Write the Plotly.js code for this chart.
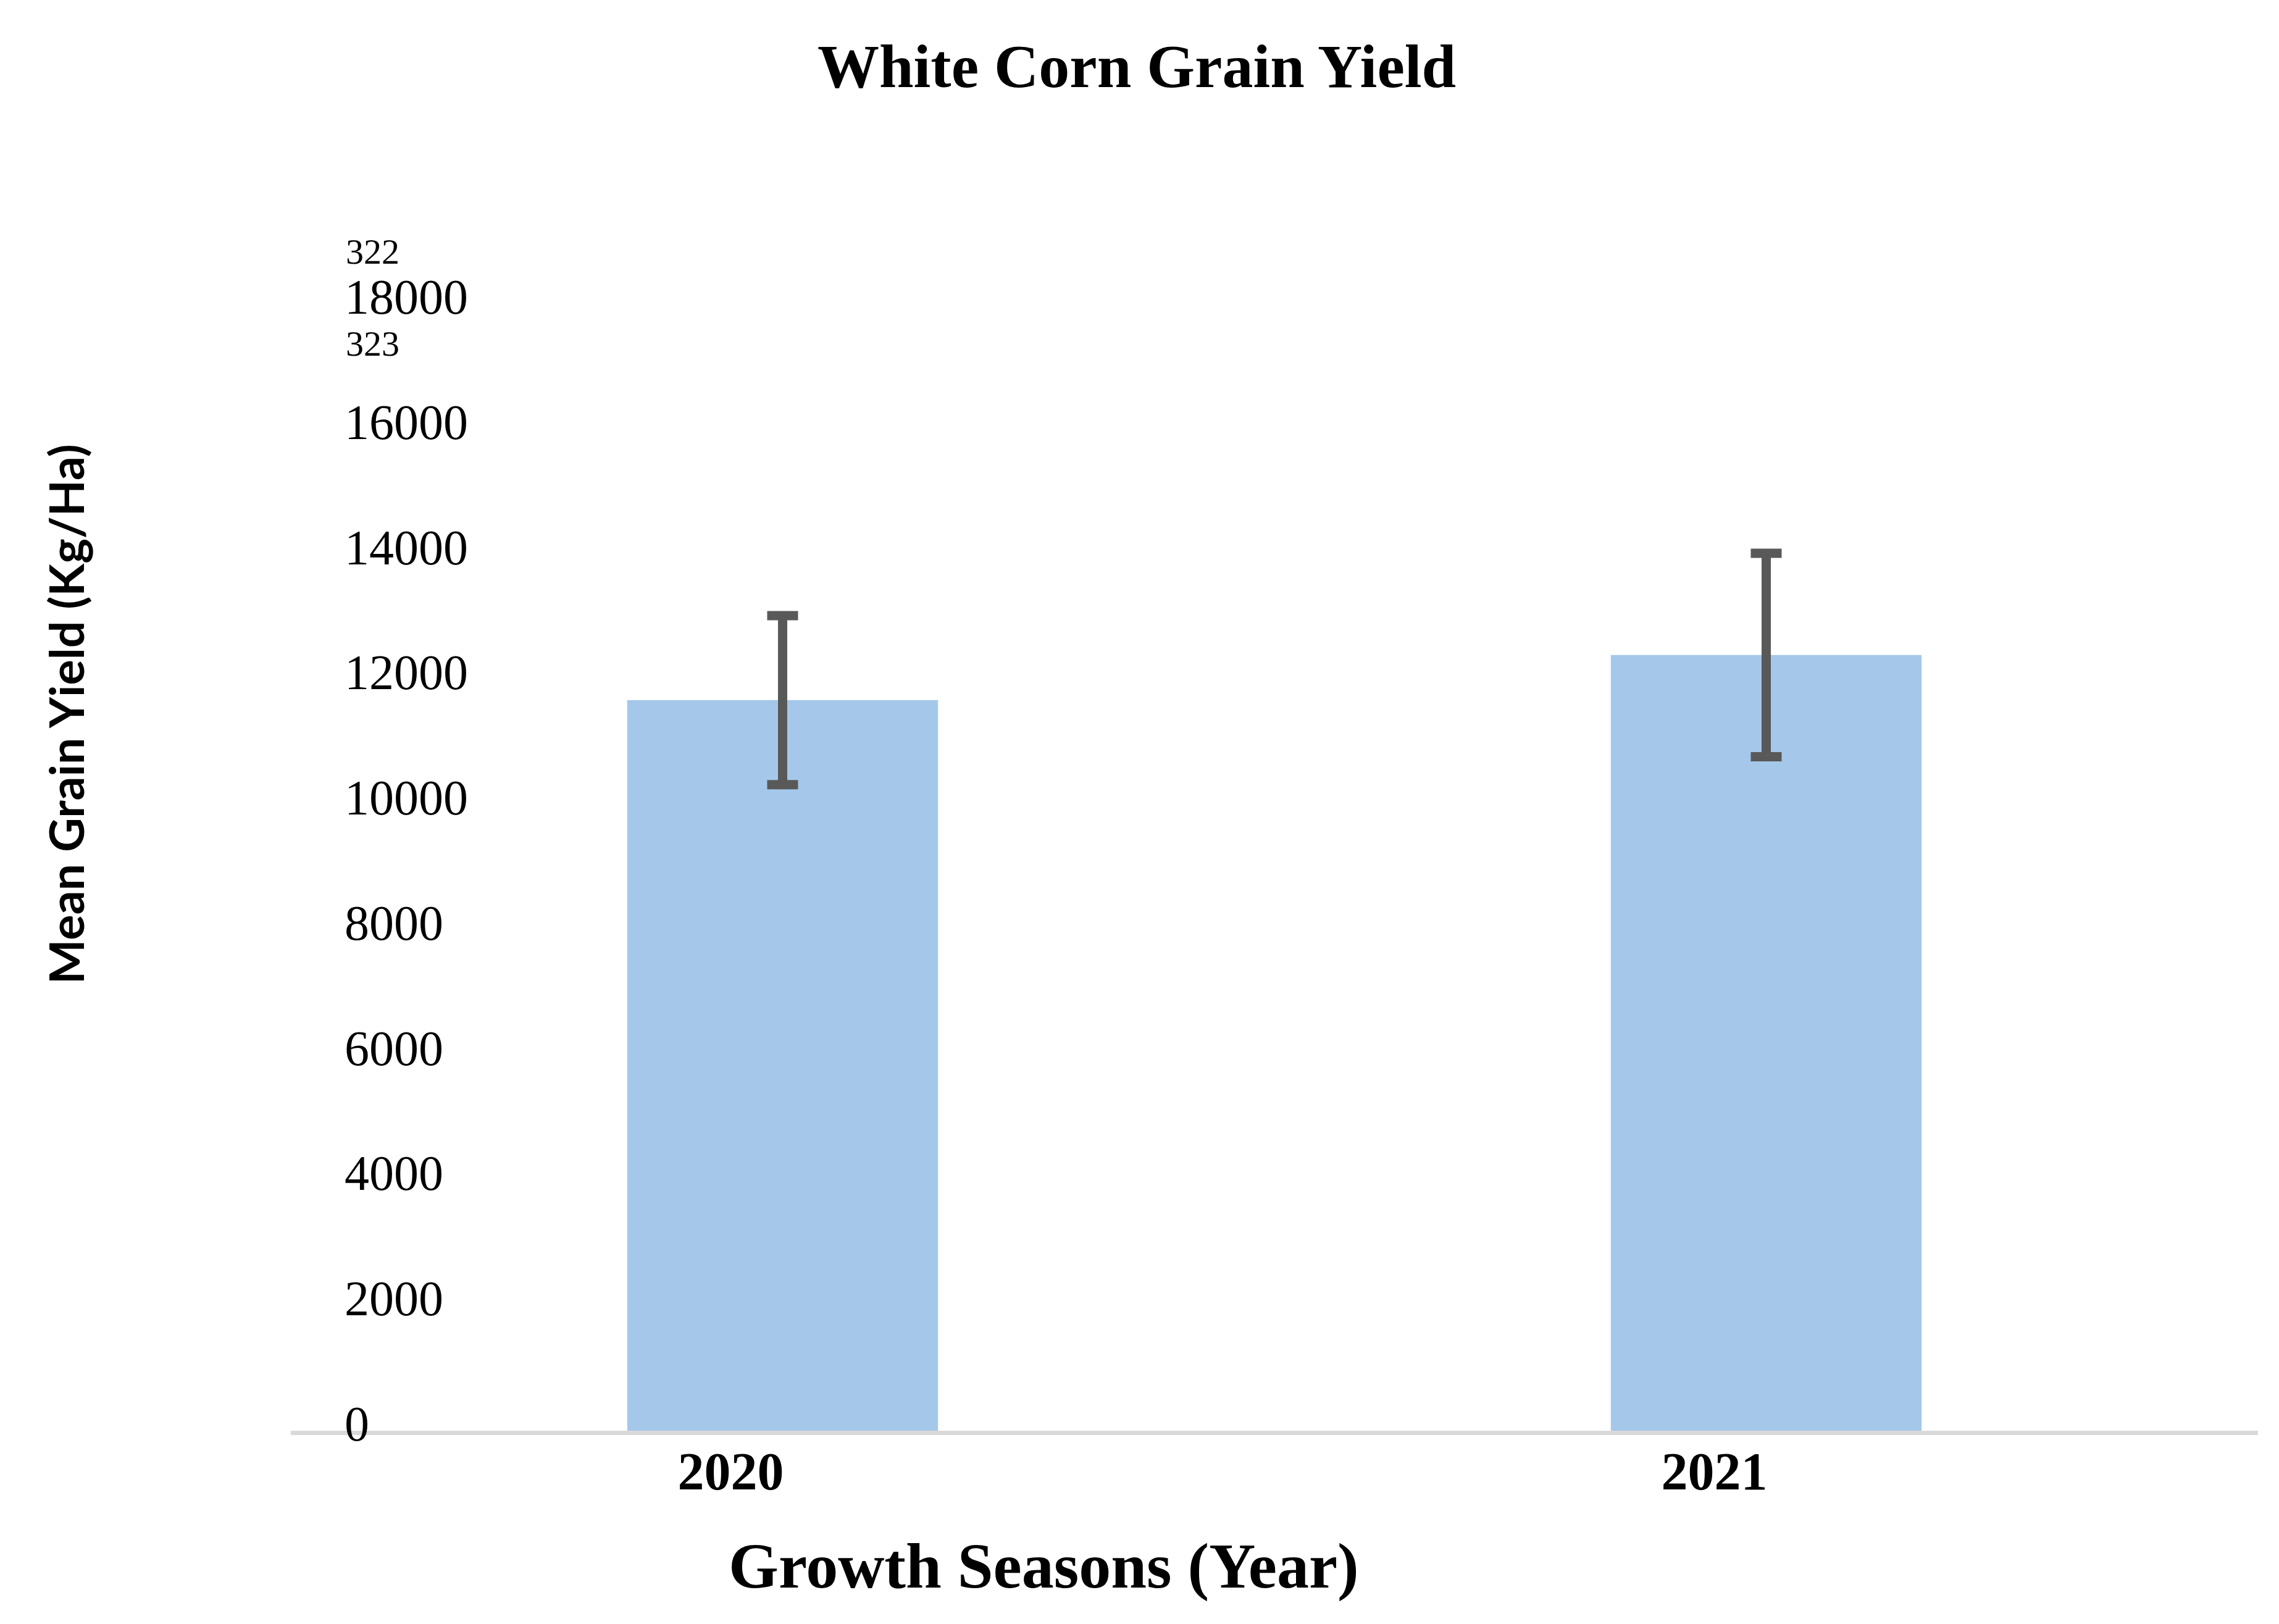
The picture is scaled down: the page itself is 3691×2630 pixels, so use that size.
<!DOCTYPE html>
<html>
<head>
<meta charset="utf-8">
<script src="https://cdn.plot.ly/plotly-3.0.1.min.js"></script>
<style>html,body{margin:0;padding:0;background:#fff;}#chart{width:3691px;height:2630px;}</style>
</head>
<body>
<div id="chart"></div>
<script>
// ---- data ----
const seasons = ['2020', '2021'];
const meanYield = [11670, 12390];
const yieldError = [1350, 1625];
const yTickValues = [0, 2000, 4000, 6000, 8000, 10000, 12000, 14000, 16000, 18000];
const extraLabels = ['322', '323'];
const chartTitle = 'White Corn Grain Yield';
const xTitle = 'Growth Seasons (Year)';
const yTitle = 'Mean Grain Yield (Kg/Ha)';

// ---- layout geometry ----
const W = 3691, H = 2630;
const plotL = 471, plotR = 3657, plotT = 492, plotB = 2317;
const pw = plotR - plotL, ph = plotB - plotT;
const px = x => (x - plotL) / pw;
const py = y => (plotB - y) / ph;

const serif = 'Liberation Serif, Times New Roman, serif';

const trace = {
  type: 'bar',
  x: seasons,
  y: meanYield,
  marker: { color: '#a5c8ea', line: { width: 0 } },
  error_y: { type: 'data', array: yieldError, visible: true, color: '#595959', thickness: 15, width: 25 },
  hoverinfo: 'skip'
};

const layout = {
  width: W, height: H,
  margin: { l: plotL, r: W - plotR, t: plotT, b: H - plotB, pad: 0 },
  paper_bgcolor: '#ffffff', plot_bgcolor: '#ffffff',
  font: { family: serif, color: '#000000' },
  showlegend: false,
  bargap: 0.684,
  title: {
    text: '<b>' + chartTitle + '</b>',
    font: { family: serif, size: 100, color: '#000' },
    x: 0.4988, xref: 'container', xanchor: 'center',
    y: 1 - 106 / H, yref: 'container', yanchor: 'middle'
  },
  xaxis: {
    type: 'category',
    range: [-0.5, 1.5],
    showgrid: false, zeroline: false,
    showline: true, linecolor: '#d9d9d9', linewidth: 7,
    ticks: '',
    tickfont: { family: serif, size: 86, color: '#000', weight: 'bold' },
    ticklabelshift: -84,
    ticklabelstandoff: -15
  },
  yaxis: {
    range: [0, 18000],
    tickvals: yTickValues,
    ticktext: yTickValues.map(String),
    showgrid: false, zeroline: false, showline: false,
    ticks: '',
    ticklabelposition: 'inside',
    ticklabeloverflow: 'allow',
    ticklabelstandoff: 84,
    ticklabelshift: -12,
    tickfont: { family: serif, size: 80, color: '#000' }
  },
  annotations: [
    {
      text: '<b>' + xTitle + '</b>', xref: 'paper', yref: 'paper',
      x: px(1690), y: py(2536), xanchor: 'center', yanchor: 'middle',
      showarrow: false, font: { family: serif, size: 104, color: '#000' }
    },
    {
      text: '<b>' + yTitle + '</b>', xref: 'paper', yref: 'paper',
      x: px(106), y: py(1157), xanchor: 'center', yanchor: 'middle', textangle: -90,
      showarrow: false, font: { family: 'Lato, Liberation Sans, sans-serif', size: 77, color: '#000' }
    },
    {
      text: extraLabels[0], xref: 'paper', yref: 'paper',
      x: px(558), y: py(408), xanchor: 'left', yanchor: 'middle',
      showarrow: false, font: { family: serif, size: 58, color: '#000' }
    },
    {
      text: extraLabels[1], xref: 'paper', yref: 'paper',
      x: px(558), y: py(556), xanchor: 'left', yanchor: 'middle',
      showarrow: false, font: { family: serif, size: 58, color: '#000' }
    }
  ]
};

Plotly.newPlot('chart', [trace], layout, { displayModeBar: false, staticPlot: true });
</script>
</body>
</html>
